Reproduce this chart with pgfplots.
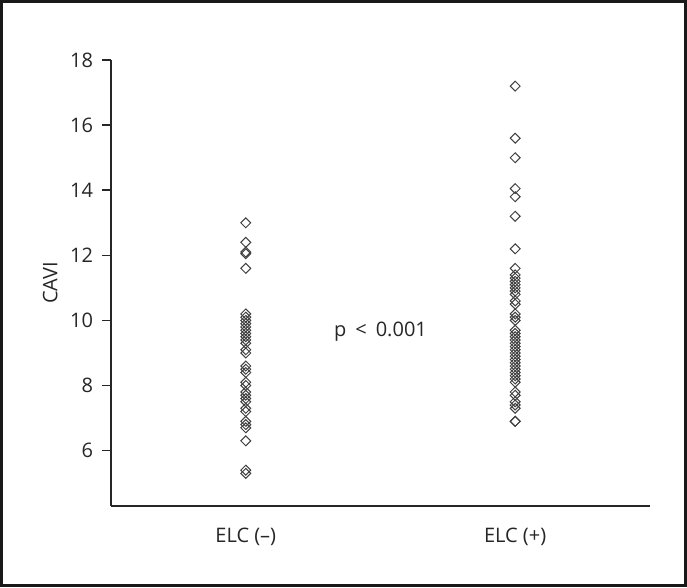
\documentclass[border=0pt]{standalone}
\usepackage{pgfplots}
\pgfplotsset{compat=1.18}
\usepackage{fontspec}
\setmainfont{Open Sans}
\definecolor{mk}{gray}{0.25}
\begin{document}
\begin{tikzpicture}
\begin{axis}[
    scale only axis,
    width=269.5pt,
    height=223pt,
    xmin=0, xmax=2,
    ymin=4.3, ymax=18,
    axis x line*=bottom,
    axis y line*=left,
    axis line style={line width=0.8pt, black!85, -},
    tick align=outside,
    major tick length=4.5pt,
    tick style={line width=0.8pt, black!85},
    ytick={6,8,...,18},
    xtick={0.5,1.5},
    xticklabels={ELC (–), ELC (+)},
    x tick style={draw=none},
    extra x ticks={0,1,2},
    extra x tick labels={},
    extra x tick style={tick style={line width=0.8pt, black!85}},
    ticklabel style={font=\fontsize{10}{12}\selectfont, text=black!85},
    /pgf/number format/assume math mode=true,
    yticklabel style={xshift=-1pt},
    xticklabel style={yshift=-3pt},
    ylabel={CAVI},
    ylabel style={font=\fontsize{10}{12}\selectfont, text=black!85, at={(rel axis cs:-0.113,0.5)}, anchor=center},
    clip=false,
]
\addplot[only marks, mark=square, mark size=1.75pt, mark options={rotate=45, draw=mk, line width=0.5pt, fill=none}]
coordinates {
(0.5,13.0) (0.5,12.4) (0.5,12.1) (0.5,12.05) (0.5,11.6)
(0.5,10.2) (0.5,10.1) (0.5,10.0) (0.5,9.9) (0.5,9.8) (0.5,9.7) (0.5,9.6)
(0.5,9.5) (0.5,9.4) (0.5,9.3) (0.5,9.1) (0.5,9.0)
(0.5,8.6) (0.5,8.5) (0.5,8.4) (0.5,8.1) (0.5,8.0) (0.5,7.8) (0.5,7.7)
(0.5,7.6) (0.5,7.5) (0.5,7.3) (0.5,7.2) (0.5,6.9) (0.5,6.8) (0.5,6.7)
(0.5,6.3) (0.5,5.4) (0.5,5.3)
};
\addplot[only marks, mark=square, mark size=1.75pt, mark options={rotate=45, draw=mk, line width=0.5pt, fill=none}]
coordinates {
(1.5,17.2) (1.5,15.6) (1.5,15.0) (1.5,14.05) (1.5,13.8) (1.5,13.2) (1.5,12.2)
(1.5,11.6) (1.5,11.4) (1.5,11.3) (1.5,11.2) (1.5,11.1) (1.5,11.0) (1.5,10.9)
(1.5,10.8) (1.5,10.6) (1.5,10.5) (1.5,10.2) (1.5,10.1) (1.5,10.0)
(1.5,9.7) (1.5,9.6) (1.5,9.5) (1.5,9.4) (1.5,9.3) (1.5,9.2) (1.5,9.1) (1.5,9.0)
(1.5,8.9) (1.5,8.8) (1.5,8.7) (1.5,8.6) (1.5,8.5) (1.5,8.4) (1.5,8.3) (1.5,8.2)
(1.5,8.1) (1.5,7.8) (1.5,7.7) (1.5,7.5) (1.5,7.4) (1.5,7.3) (1.5,6.9) (1.5,6.9)
};
\node[font=\fontsize{10}{12}\selectfont, text=black!85] at (axis cs:1,9.66) {p\hspace{0.45em}<\hspace{0.45em}0.001};
\draw[line width=1.6pt, black!90] (rel axis cs:-0.2032,-0.1783) rectangle (rel axis cs:1.0659,1.1312);
\end{axis}
\end{tikzpicture}
\end{document}
